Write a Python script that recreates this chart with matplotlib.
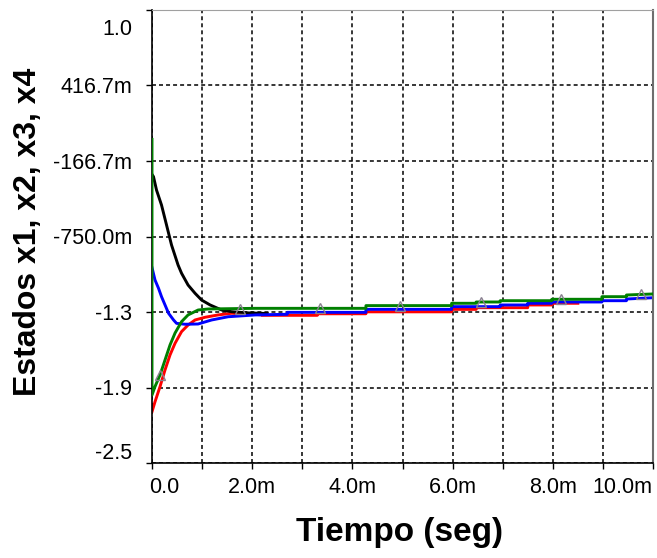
import numpy as np
import matplotlib
matplotlib.use("Agg")
import matplotlib.pyplot as plt
from matplotlib.transforms import offset_copy, blended_transform_factory

plt.rcParams['font.family'] = ['Liberation Sans', 'DejaVu Sans']

# ---- data (time in ms) ----
t_x1 = [0.0, 0.03, 0.09, 0.19, 0.29, 0.39, 0.52, 0.59, 0.72, 0.86, 0.99, 1.16, 1.39, 1.59, 1.90, 2.30]
x1 = [-0.27, -0.288, -0.391, -0.507, -0.661, -0.816, -0.970, -1.034, -1.125, -1.189, -1.241,
      -1.279, -1.318, -1.331, -1.340, -1.345]

t_x2 = [0.0, 0.06, 0.13, 0.19, 0.26, 0.33, 0.43, 0.49, 0.66, 0.92, 1.19, 1.52, 2.06, 2.70, 2.70,
        4.27, 4.27, 5.98, 5.98, 6.95, 6.95, 7.50, 7.50, 7.98, 7.98, 8.98, 8.98, 9.47, 9.47, 10.0]
x2 = [-0.99, -1.086, -1.150, -1.215, -1.279, -1.343, -1.395, -1.421, -1.428, -1.426, -1.395,
      -1.370, -1.356, -1.351, -1.336, -1.336, -1.313, -1.313, -1.292, -1.292, -1.279, -1.279,
      -1.266, -1.266, -1.256, -1.256, -1.246, -1.246, -1.233, -1.223]

t_x3 = [0.0, 0.06, 0.16, 0.26, 0.36, 0.46, 0.59, 0.72, 0.86, 1.06, 1.32, 1.59, 2.06, 2.20, 2.20,
        3.30, 3.30, 4.27, 4.27, 5.98, 5.98, 6.47, 6.47, 7.50, 7.50, 7.98, 7.98, 8.50]
x3 = [-2.104, -2.027, -1.910, -1.781, -1.665, -1.575, -1.485, -1.434, -1.395, -1.374, -1.356,
      -1.343, -1.352, -1.356, -1.359, -1.359, -1.347, -1.347, -1.332, -1.332, -1.313, -1.313,
      -1.300, -1.300, -1.279, -1.279, -1.266, -1.266]

t_x4 = [0.0, 0.0, 0.06, 0.16, 0.26, 0.36, 0.46, 0.59, 0.72, 0.92, 1.12, 2.06, 4.27, 4.27, 5.98,
        5.98, 6.47, 6.47, 6.95, 6.95, 7.98, 7.98, 8.98, 8.98, 9.47, 9.47, 10.0]
x4 = [0.0, -1.975, -1.910, -1.820, -1.704, -1.588, -1.496, -1.408, -1.356, -1.318, -1.310,
      -1.305, -1.305, -1.284, -1.284, -1.266, -1.266, -1.256, -1.256, -1.246, -1.246, -1.235,
      -1.235, -1.215, -1.215, -1.202, -1.194]

marker_t = [0.16, 1.76, 3.36, 4.96, 6.56, 8.16, 9.76]

x_ticks = list(range(11))
x_labels = ['0.0', '', '2.0m', '', '4.0m', '', '6.0m', '', '8.0m', '', '10.0m']
y_ticks = [1.0, 0.4167, -0.1667, -0.75, -1.3333, -1.9167, -2.5]
y_labels = ['1.0', '416.7m', '-166.7m', '-750.0m', '-1.3', '-1.9', '-2.5']

# ---- figure ----
W, H = 657, 558
fig = plt.figure(figsize=(W / 100, H / 100), dpi=100)
ax = fig.add_axes([152 / W, 95 / H, 501 / W, 453 / H])
ax.set_xlim(0, 10)
ax.set_ylim(-2.5, 1.0)

lw = 2.1
ax.plot(t_x3, x3, color='#ff0000', lw=lw, zorder=2)
ax.plot(t_x1, x1, color='#000000', lw=lw, zorder=2.1)
ax.plot(t_x2, x2, color='#0000ff', lw=lw, zorder=2.2)
ax.plot(t_x4, x4, color='#008000', lw=lw, zorder=3)
ax.plot(marker_t, np.interp(marker_t, t_x4, x4), ls='none', marker='^', ms=7,
        mfc='none', mec='#8a8090', mew=1.0, zorder=4)

# grid and frame
ax.set_xticks(x_ticks)
ax.set_yticks(y_ticks)
ax.grid(True, color='black', linestyle=(0, (2.6, 2.0)), linewidth=1.1)
ax.tick_params(labelbottom=False, labelleft=False, direction='out',
               length=4, width=1.0, color='black')
ax.spines['left'].set_color('black')
ax.spines['bottom'].set_color('black')
ax.spines['left'].set_linewidth(1.2)
ax.spines['bottom'].set_linewidth(1.2)
ax.spines['top'].set_color('#a0a0a0')
ax.spines['top'].set_linewidth(0.8)
ax.spines['right'].set_color('#6e6e6e')
ax.spines['right'].set_linewidth(1.5)

fs = 15.5
# y tick labels
ytr = blended_transform_factory(ax.transAxes, ax.transData)
for i, (v, lab) in enumerate(zip(y_ticks, y_labels)):
    dy = 7.7
    if i == 0:
        dy = 24.7
    elif i == len(y_ticks) - 1:
        dy = -3.8
    ax.text(0, v, lab, ha='right', va='baseline', fontsize=fs,
            transform=offset_copy(ytr, fig=fig, x=-20, y=-dy, units='dots'))

# x tick labels
xtr = blended_transform_factory(ax.transData, ax.transAxes)
for i, (v, lab) in enumerate(zip(x_ticks, x_labels)):
    if not lab:
        continue
    ha, dx = 'center', 0
    if i == 0:
        ha, dx = 'left', -3
    elif i == len(x_ticks) - 1:
        ha, dx = 'right', -1
    ax.text(v, 0, lab, ha=ha, va='baseline', fontsize=fs,
            transform=offset_copy(xtr, fig=fig, x=dx, y=-30.3, units='dots'))

fig.text(28.5 / W, 1 - 231.5 / H, 'Estados x1, x2, x3, x4', rotation=90,
         ha='center', va='center', fontsize=23, fontweight='bold')
fig.text(399 / W, 1 - 532 / H, 'Tiempo (seg)', ha='center', va='center',
         fontsize=24, fontweight='bold')

fig.savefig('out.png', dpi=100)
